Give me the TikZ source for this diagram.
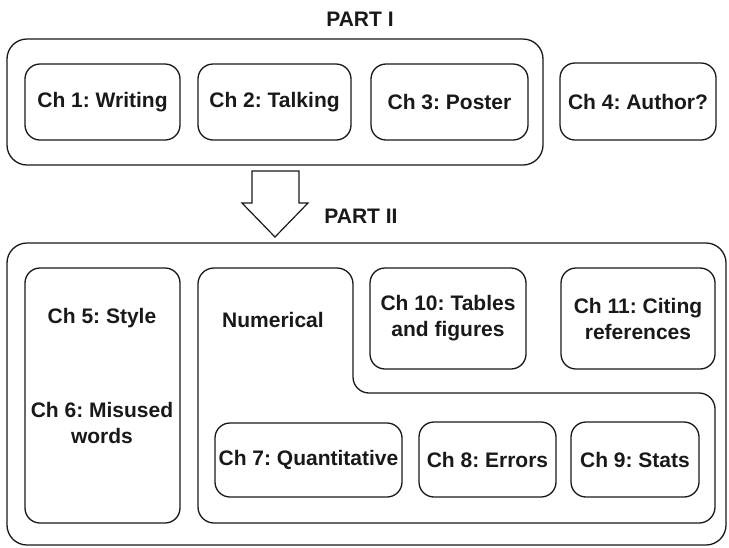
\documentclass[tikz,border=0pt]{standalone}
\usepackage{fontspec}
\setmainfont{Liberation Sans}
\frenchspacing
\begin{document}
\begin{tikzpicture}[x=1pt,y=-1pt,
  every node/.style={font=\fontsize{21}{26}\selectfont\bfseries\frenchspacing, text=black!90, align=center, inner sep=0pt},
  box/.style={draw=black!90, line width=1.3pt, rounded corners=15pt, rectangle},
  frame/.style={draw=black!90, line width=1.3pt, rounded corners=20pt},
  lbl/.style={}]
\useasboundingbox (0,0) rectangle (729,547);
% Part I
\node[lbl] (p1) at (360,19) {PART I};
\draw[frame] (7,39) rectangle (543,165);
\node[box, minimum width=155pt, minimum height=76pt] (c1) at (102.5,102) {Ch 1: Writing};
\node[box, minimum width=153pt, minimum height=76pt] (c2) at (274.5,102) {Ch 2: Talking};
\node[box, minimum width=157pt, minimum height=76pt] (c3) at (449.5,102) {Ch 3: Poster};
\node[box, minimum width=156pt, minimum height=77pt] (c4) at (638,101.5) {Ch 4: Author?};
% arrow
\draw[draw=black!90, line width=1.2pt, fill=white] (252,171) -- (299,171) -- (299,203) -- (308,203) -- (275,237) -- (242,203) -- (252,203) -- cycle;
\node[lbl] (p2) at (361,216) {PART II};
% Part II
\draw[frame] (7,243) rectangle (726,545);
\node[box, minimum width=155pt, minimum height=255pt] (c56) at (102.5,395.5) {};
\node (c5) at (102,318) {Ch 5: Style};
\node (c6) at (102,423) {Ch 6: Misused\\words};
\draw[draw=black!90, line width=1.3pt, rounded corners=16pt] (198,268) -- (353,268) -- (353,393) -- (715,393) -- (715,523) -- (198,523) -- cycle;
\node (num) at (273,320) {Numerical};
\node[box, minimum width=156pt, minimum height=101pt] (c10) at (448,318.5) {Ch 10: Tables\\and figures};
\node[box, minimum width=154pt, minimum height=101pt] (c11) at (638,318.5) {Ch 11: Citing\\references};
\node[box, minimum width=187pt, minimum height=74pt] (c7) at (308.5,460) {Ch 7: Quantitative};
\node[box, minimum width=137pt, minimum height=75pt] (c8) at (487.5,459.5) {Ch 8: Errors};
\node[box, minimum width=128pt, minimum height=75pt] (c9) at (635,459.5) {Ch 9: Stats};
\end{tikzpicture}
\end{document}
